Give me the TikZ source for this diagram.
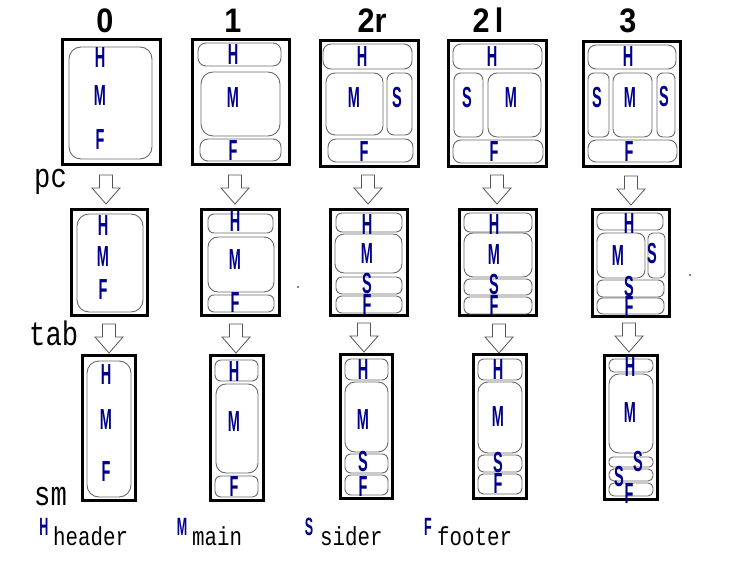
\documentclass[tikz,border=0pt]{standalone}
\usepackage{fontspec}
\setmainfont{Liberation Sans}
\newfontfamily\monof{Liberation Mono}
\definecolor{lblue}{RGB}{0,0,140}
\definecolor{igray}{RGB}{105,105,105}
\definecolor{agray}{RGB}{85,85,85}
\newcommand{\lbx}[1]{\scalebox{0.5}[1]{#1}}
\newcommand{\ttlx}[1]{\scalebox{0.9}[1]{#1}}
\newcommand{\rowx}[1]{\scalebox{0.8}[1]{#1}}
\newcommand{\legx}[1]{\scalebox{0.8}[1]{#1}}
\tikzset{
  obox/.style={draw=black,line width=3pt,fill=white},
  ibox/.style={draw=igray,line width=0.9pt,rounded corners=#1},
  ibox/.default=6pt,
  lab/.style={text=lblue,inner sep=0pt,font=\fontsize{29}{29}\selectfont\bfseries},
  ttl/.style={inner sep=0pt,anchor=base,font=\fontsize{34}{34}\selectfont\bfseries},
  rowlab/.style={inner sep=0pt,anchor=base west,font=\monof\fontsize{34}{34}\selectfont},
  legtxt/.style={inner sep=0pt,anchor=base west,font=\monof\fontsize{26}{26}\selectfont},
  leglet/.style={inner sep=0pt,anchor=base,text=lblue,font=\fontsize{25}{25}\selectfont\bfseries},
  arr/.style={draw=agray,line width=0.8pt,fill=white,line join=miter},
  darr/.pic={\draw[arr] (-6.5,0) -- (6.5,0) -- (6.5,13) -- (14,13) -- (0,29) -- (-14,13) -- (-6.5,13) -- cycle;}
}
\begin{document}
\begin{tikzpicture}[x=1pt,y=-1pt]
\useasboundingbox[fill=white] (0,0) rectangle (731,577);

% ---------- titles ----------
\node[ttl] (t0) at (105,33) {\ttlx{0}};
\node[ttl] (t1) at (233,33) {\ttlx{1}};
\node[ttl] (t2r) at (372,33) {\ttlx{2r}};
\node[ttl] (t2l) at (488,33) {\ttlx{2\,l}};
\node[ttl] (t3) at (628,33) {\ttlx{3}};

% ---------- row labels ----------
\node[rowlab] (pc) at (34,188) {\rowx{pc}};
\node[rowlab] (tab) at (29,345) {\rowx{tab}};
\node[rowlab] (sm) at (34,505) {\rowx{sm}};

% ================= ROW 1 (pc) =================
% col 0
\draw[obox] (62.5,39.5) rectangle (160.5,164.5);
\draw[ibox=12pt] (69,47) rectangle (152,159);
% col 1
\draw[obox] (192.5,39.5) rectangle (289.5,164.5);
\draw[ibox=8pt] (198,43) rectangle (281,66);
\draw[ibox=12pt] (201,72) rectangle (280,136);
\draw[ibox=8pt] (200,139) rectangle (281,161);
% col 2r
\draw[obox] (320.5,40.5) rectangle (418.5,166.5);
\draw[ibox=8pt] (323,44) rectangle (412,69);
\draw[ibox=9pt] (326,73) rectangle (383,135);
\draw[ibox=7pt] (387,73) rectangle (412,135);
\draw[ibox=8pt] (328,139) rectangle (413,162);
% col 2l
\draw[obox] (448.5,40.5) rectangle (546.5,166.5);
\draw[ibox=8pt] (453,44) rectangle (542,69);
\draw[ibox=7pt] (454,73) rectangle (483,137);
\draw[ibox=9pt] (488,73) rectangle (541,137);
\draw[ibox=8pt] (453,140) rectangle (543,163);
% col 3
\draw[obox] (583.5,41.5) rectangle (680.5,166.5);
\draw[ibox=8pt] (588,45) rectangle (676,69);
\draw[ibox=6pt] (588,73) rectangle (609,137);
\draw[ibox=8pt] (613,73) rectangle (652,137);
\draw[ibox=6pt] (657,73) rectangle (675,137);
\draw[ibox=8pt] (588,140) rectangle (677,162);

% arrows row1 -> row2
\pic at (106,175) {darr};
\pic at (235,175) {darr};
\pic at (368,175) {darr};
\pic at (497,175) {darr};
\pic at (631,176) {darr};

% ================= ROW 2 (tab) =================
% col 0
\draw[obox] (71.5,209.5) rectangle (147.5,315.5);
\draw[ibox=12pt] (77,214) rectangle (143,312);
% col 1
\draw[obox] (201.5,209.5) rectangle (279.5,315.5);
\draw[ibox=6pt] (208,214) rectangle (273,233);
\draw[ibox=10pt] (208,237) rectangle (274,292);
\draw[ibox=6pt] (208,295) rectangle (274,312);
% col 2r
\draw[obox] (330.5,209.5) rectangle (407.5,315.5);
\draw[ibox=6pt] (336,213) rectangle (402,232);
\draw[ibox=9pt] (335,234) rectangle (402,273);
\draw[ibox=6pt] (336,277) rectangle (402,294);
\draw[ibox=6pt] (336,296) rectangle (402,313);
% col 2l
\draw[obox] (459.5,209.5) rectangle (536.5,315.5);
\draw[ibox=6pt] (464,213) rectangle (532,232);
\draw[ibox=9pt] (464,233) rectangle (532,277);
\draw[ibox=6pt] (464,279) rectangle (532,295);
\draw[ibox=6pt] (464,297) rectangle (532,314);
% col 3
\draw[obox] (592.5,209.5) rectangle (669.5,316.5);
\draw[ibox=6pt] (597,213) rectangle (663,230);
\draw[ibox=8pt] (597,233) rectangle (645,278);
\draw[ibox=5pt] (648,233) rectangle (665,278);
\draw[ibox=6pt] (597,280) rectangle (664,297);
\draw[ibox=6pt] (597,298) rectangle (664,314);

% arrows row2 -> row3
\pic at (109,324) {darr};
\pic at (236,324) {darr};
\pic at (364,323) {darr};
\pic at (499,324) {darr};
\pic at (629,323) {darr};

% ================= ROW 3 (sm) =================
% col 0
\draw[obox] (82.5,355.5) rectangle (135.5,500.5);
\draw[ibox=12pt] (87,361) rectangle (131,497);
% col 1
\draw[obox] (210.5,355.5) rectangle (263.5,500.5);
\draw[ibox=6pt] (215,360) rectangle (258,381);
\draw[ibox=10pt] (216,384) rectangle (258,473);
\draw[ibox=6pt] (215,476) rectangle (258,497);
% col 2r
\draw[obox] (340.5,354.5) rectangle (392.5,498.5);
\draw[ibox=6pt] (345,359) rectangle (388,380);
\draw[ibox=10pt] (345,382) rectangle (388,452);
\draw[ibox=6pt] (345,454) rectangle (388,473);
\draw[ibox=6pt] (345,475) rectangle (388,495);
% col 2l
\draw[obox] (473.5,354.5) rectangle (526.5,498.5);
\draw[ibox=6pt] (478,359) rectangle (522,380);
\draw[ibox=10pt] (478,382) rectangle (522,453);
\draw[ibox=6pt] (478,455) rectangle (522,472);
\draw[ibox=6pt] (478,474) rectangle (522,494);
% col 3
\draw[obox] (604.5,355.5) rectangle (657.5,499.5);
\draw[ibox=5pt] (609,359) rectangle (653,372);
\draw[ibox=10pt] (609,374) rectangle (653,453);
\draw[ibox=4pt] (609,457) rectangle (653,467);
\draw[ibox=5pt] (609,469) rectangle (653,481);
\draw[ibox=5pt] (609,483) rectangle (653,496);

% ---------- labels row 1 ----------
\node[lab] (a0H) at (100,58) {\lbx{H}};
\node[lab] (a0M) at (100,96) {\lbx{M}};
\node[lab] (a0F) at (100,140) {\lbx{F}};
\node[lab] (a1H) at (233,55) {\lbx{H}};
\node[lab] (a1M) at (233,98) {\lbx{M}};
\node[lab] (a1F) at (233,151) {\lbx{F}};
\node[lab] (a2rH) at (362,57) {\lbx{H}};
\node[lab] (a2rM) at (354,98) {\lbx{M}};
\node[lab] (a2rS) at (397,98) {\lbx{S}};
\node[lab] (a2rF) at (364,152) {\lbx{F}};
\node[lab] (a2lH) at (492,57) {\lbx{H}};
\node[lab] (a2lS) at (467,98) {\lbx{S}};
\node[lab] (a2lM) at (511,98) {\lbx{M}};
\node[lab] (a2lF) at (494,152) {\lbx{F}};
\node[lab] (a3H) at (628,57) {\lbx{H}};
\node[lab] (a3S1) at (597,98) {\lbx{S}};
\node[lab] (a3M) at (630,98) {\lbx{M}};
\node[lab] (a3S2) at (664,97) {\lbx{S}};
\node[lab] (a3F) at (629,152) {\lbx{F}};

% ---------- labels row 2 ----------
\node[lab] (b0H) at (103,226) {\lbx{H}};
\node[lab] (b0M) at (103,257) {\lbx{M}};
\node[lab] (b0F) at (103,290) {\lbx{F}};
\node[lab] (b1H) at (235,222) {\lbx{H}};
\node[lab] (b1M) at (235,260) {\lbx{M}};
\node[lab] (b1F) at (235,303) {\lbx{F}};
\node[lab] (b2rH) at (367,225) {\lbx{H}};
\node[lab] (b2rM) at (367,254) {\lbx{M}};
\node[lab] (b2rS) at (367,284) {\lbx{S}};
\node[lab] (b2rF) at (367,305) {\lbx{F}};
\node[lab] (b2lH) at (494,225) {\lbx{H}};
\node[lab] (b2lM) at (494,255) {\lbx{M}};
\node[lab] (b2lS) at (494,285) {\lbx{S}};
\node[lab] (b2lF) at (494,306) {\lbx{F}};
\node[lab] (b3H) at (629,224) {\lbx{H}};
\node[lab] (b3M) at (618,256) {\lbx{M}};
\node[lab] (b3S1) at (652,254) {\lbx{S}};
\node[lab] (b3S2) at (629,287) {\lbx{S}};
\node[lab] (b3F) at (629,307) {\lbx{F}};

% ---------- labels row 3 ----------
\node[lab] (c0H) at (106,375) {\lbx{H}};
\node[lab] (c0M) at (106,420) {\lbx{M}};
\node[lab] (c0F) at (106,472) {\lbx{F}};
\node[lab] (c1H) at (234,372) {\lbx{H}};
\node[lab] (c1M) at (234,422) {\lbx{M}};
\node[lab] (c1F) at (234,487) {\lbx{F}};
\node[lab] (c2rH) at (363,370) {\lbx{H}};
\node[lab] (c2rM) at (363,420) {\lbx{M}};
\node[lab] (c2rS) at (363,462) {\lbx{S}};
\node[lab] (c2rF) at (363,487) {\lbx{F}};
\node[lab] (c2lH) at (498,370) {\lbx{H}};
\node[lab] (c2lM) at (498,417) {\lbx{M}};
\node[lab] (c2lS) at (498,463) {\lbx{S}};
\node[lab] (c2lF) at (498,484) {\lbx{F}};
\node[lab] (c3H) at (630,367) {\lbx{H}};
\node[lab] (c3M) at (630,413) {\lbx{M}};
\node[lab] (c3S1) at (638,462) {\lbx{S}};
\node[lab] (c3S2) at (619,477) {\lbx{S}};
\node[lab] (c3F) at (629,494) {\lbx{F}};

% ---------- dots ----------
\fill[black] (298,287) circle (0.8);
\fill[black] (690,275) circle (0.8);

% ---------- legend ----------
\node[leglet] (lH) at (44,535) {\lbx{H}};
\node[legtxt] (lHt) at (53,545) {\legx{header}};
\node[leglet] (lM) at (182,535) {\lbx{M}};
\node[legtxt] (lMt) at (192,545) {\legx{main}};
\node[leglet] (lS) at (309,535) {\lbx{S}};
\node[legtxt] (lSt) at (320,545) {\legx{sider}};
\node[leglet] (lF) at (428,535) {\lbx{F}};
\node[legtxt] (lFt) at (437,545) {\legx{footer}};
\end{tikzpicture}
\end{document}
